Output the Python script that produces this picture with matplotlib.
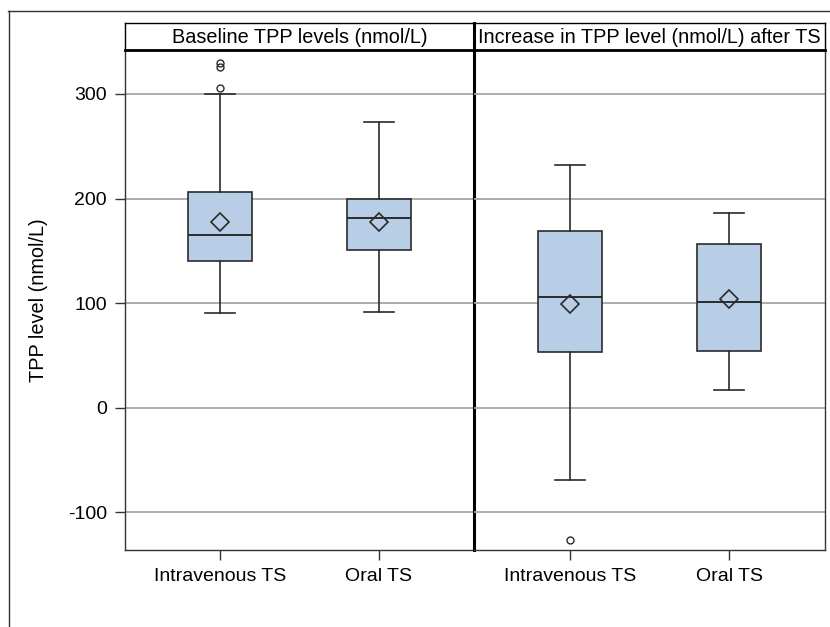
import matplotlib.pyplot as plt
from matplotlib.lines import Line2D

plt.rcParams['font.family'] = ['Liberation Sans', 'DejaVu Sans']
plt.rcParams['axes.unicode_minus'] = False

# panel titles and groups
panels = ["Baseline TPP levels (nmol/L)", "Increase in TPP level (nmol/L) after TS"]
groups = ["Intravenous TS", "Oral TS"]

# box statistics: [IV, Oral] per panel
whislo = [[91, 92], [-69, 17]]
q1 = [[140, 151], [53, 54]]
med = [[165, 181], [106, 101]]
q3 = [[206, 200], [169, 157]]
whishi = [[300, 273], [232, 186]]
means = [[178, 178], [99, 104]]
fliers = [[[306, 326, 330], []], [[-126], []]]

yticks = [-100, 0, 100, 200, 300]

W, H = 830, 627
fig = plt.figure(figsize=(W / 100, H / 100), dpi=100)

left, right, bottom, top, head_top = 125, 825, 550, 50, 23
divider = 474

box_color = '#b8cde6'
edge = '#2b2b2b'

for i, (x0, x1) in enumerate([(left, divider), (divider, right)]):
    ax = fig.add_axes([x0 / W, 1 - bottom / H, (x1 - x0) / W, (bottom - top) / H])
    ax.patch.set_alpha(0)
    stats = []
    for j in range(2):
        stats.append(dict(whislo=whislo[i][j], q1=q1[i][j], med=med[i][j], q3=q3[i][j],
                          whishi=whishi[i][j], mean=means[i][j], fliers=fliers[i][j]))
    ax.bxp(stats, positions=[0, 1], widths=0.4, patch_artist=True, showmeans=True,
           boxprops=dict(facecolor=box_color, edgecolor=edge, linewidth=1.2),
           medianprops=dict(color=edge, linewidth=1.4),
           whiskerprops=dict(color=edge, linewidth=1.2),
           capprops=dict(color=edge, linewidth=1.2),
           capwidths=0.19,
           meanprops=dict(marker='D', markerfacecolor='none', markeredgecolor=edge,
                          markersize=9, markeredgewidth=1.2),
           flierprops=dict(marker='o', markerfacecolor='none', markeredgecolor=edge,
                           markersize=5, markeredgewidth=1))
    ax.set_xlim(-0.6, 1.6)
    ax.set_ylim(-136, 342)
    ax.set_yticks(yticks)
    for y in yticks:
        ax.axhline(y, color='#a6a6a6', linewidth=1.3, zorder=0)
    ax.set_xticks([0, 1])
    ax.set_xticklabels(groups, fontsize=14)
    ax.tick_params(axis='both', length=7, width=1, color='#333333', labelsize=14, pad=6)
    for s in ax.spines.values():
        s.set_color('#333333')
        s.set_linewidth(1)
    if i == 0:
        ax.set_ylabel("TPP level (nmol/L)", fontsize=14.3, labelpad=14)
        ax.spines['right'].set_color('black')
        ax.spines['right'].set_linewidth(2.2)
        ax.spines['right'].set_zorder(5)
    else:
        ax.tick_params(axis='y', left=False, labelleft=False)
        ax.spines['left'].set_visible(False)

    # header strip
    hx = fig.add_axes([x0 / W, 1 - top / H, (x1 - x0) / W, (top - head_top) / H])
    hx.patch.set_alpha(0)
    hx.set_xticks([])
    hx.set_yticks([])
    for s in hx.spines.values():
        s.set_color('black')
        s.set_linewidth(1)
    hx.spines['bottom'].set_linewidth(2)
    if i == 0:
        hx.spines['right'].set_linewidth(2.2)
    else:
        hx.spines['left'].set_visible(False)
    hx.text(0.5, 0.45, panels[i], ha='center', va='center', fontsize=14.3,
            transform=hx.transAxes)

# outer frame (top and left edges visible)
fig.add_artist(Line2D([8 / W, 1], [1 - 10.5 / H, 1 - 10.5 / H], color='#333333', linewidth=1))
fig.add_artist(Line2D([8.5 / W, 8.5 / W], [0, 1 - 10.5 / H], color='#333333', linewidth=1))

fig.savefig('out.png', dpi=100)
